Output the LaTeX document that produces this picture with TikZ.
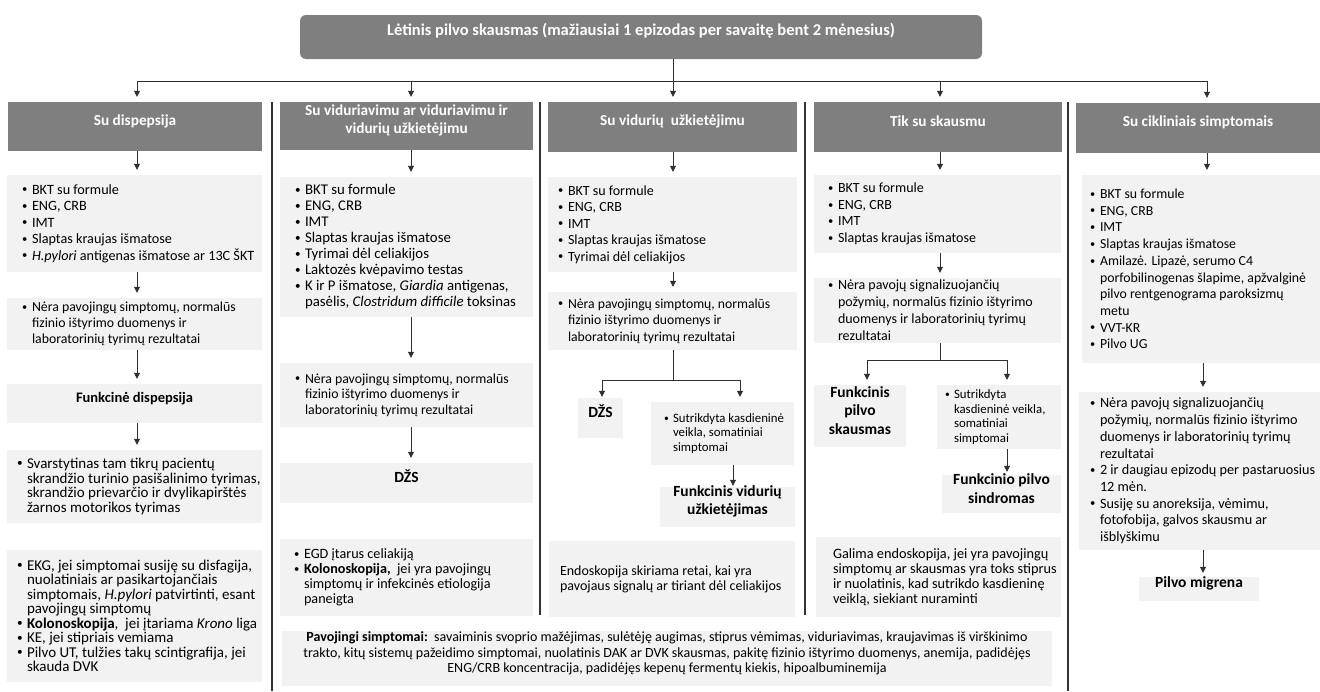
\documentclass[tikz,border=0pt]{standalone}
\usepackage{fontspec}
\usepackage{graphicx}
\setmainfont{Carlito}
\usetikzlibrary{arrows.meta,fit}
\definecolor{dk}{HTML}{7F7F7F}
\definecolor{lt}{HTML}{F2F2F2}
\definecolor{lc}{HTML}{303030}
\newcommand\bdot{\raisebox{0.1em}{\scalebox{0.75}{\textbullet}}}
\newcommand\bu{\makebox[10pt][l]{\bdot}}
\newcommand\ct{\hspace*{10pt}}
\newcommand\sbu{\makebox[9pt][l]{\bdot}}
\newcommand\sct{\hspace*{9pt}}
\newcommand\bx[7]{\node[#6, fit={(#2,#3) (#4,#5)}, inner sep=0pt] (#1) {#7};}
\newcommand\tx[5]{\node[txt, font=\fontsize{#3}{#4}\selectfont] at ([xshift=#2pt]#1.west) {#5};}
\begin{document}
\begin{tikzpicture}[x=1pt,y=-1pt,
  hdr/.style={fill=dk, draw=none, text=white, font=\fontsize{15.3}{18.3}\selectfont\bfseries, align=center},
  lbox/.style={fill=lt, draw=none},
  res/.style={fill=lt, draw=none, font=\fontsize{15.5}{18.3}\selectfont\bfseries, align=center},
  txt/.style={anchor=west, align=left, inner sep=0pt},
  stxt/.style={anchor=west, align=left, inner sep=0pt, font=\fontsize{12.8}{14.5}\selectfont},
  conn/.style={draw=lc, line width=0.8pt},
  arr/.style={draw=lc, line width=0.8pt, -{Triangle[length=6pt,width=6pt]}, shorten >=5pt},
  sep/.style={draw=black!80, line width=1.3pt}]
\useasboundingbox (0,0) rectangle (1320,691);
\fill[white] (0,0) rectangle (1320,691);

% separators
\draw[sep] (272,102) -- (272,691);
\draw[sep] (540,102) -- (540,615);
\draw[sep] (805,102) -- (805,615);
\draw[sep] (1068,102) -- (1068,691);

% title
\node[fill=dk, rounded corners=6pt, fit={(300,15) (982,59)}, inner sep=0pt, text=white, font=\fontsize{16.5}{19}\selectfont\bfseries] (title) {Lėtinis pilvo skausmas (mažiausiai 1 epizodas per savaitę bent 2 mėnesius)};

% ---------- column 1
\bx{h1}{8}{102}{262}{151}{hdr}{Su dispepsija}
\bx{a1}{7}{175}{262}{272}{lbox}{}
\tx{a1}{15}{14.2}{16.5}{\bu BKT su formule\\\bu ENG, CRB\\\bu IMT\\\bu Slaptas kraujas išmatose\\\bu \textit{H.pylori} antigenas išmatose ar 13C ŠKT}
\bx{a2}{7}{298}{262}{350}{lbox}{}
\tx{a2}{15}{13.8}{16}{\bu Nėra pavojingų simptomų, normalūs\\\ct fizinio ištyrimo duomenys ir\\\ct laboratorinių tyrimų rezultatai}
\bx{a3}{7}{384}{262}{423}{res, font=\fontsize{14.5}{17}\selectfont\bfseries}{Funkcinė dispepsija}
\bx{a4}{7}{450}{262}{523}{lbox}{}
\tx{a4}{10}{15}{14.7}{\bu Svarstytinas tam tikrų pacientų\\\ct skrandžio turinio pasišalinimo tyrimas,\\\ct skrandžio prievarčio ir dvylikapirštės\\\ct žarnos motorikos tyrimas}
\bx{a5}{7}{550}{262}{682}{lbox}{}
\tx{a5}{10}{15}{14.5}{\bu EKG, jei simptomai susiję su disfagija,\\\ct nuolatiniais ar pasikartojančiais\\\ct simptomais, \textit{H.pylori} patvirtinti, esant\\\ct pavojingų simptomų\\\bu \textbf{Kolonoskopija},\ \ jei įtariama \textit{Krono} liga\\\bu KE, jei stipriais vemiama\\\bu Pilvo UT, tulžies takų scintigrafija, jei\\\ct skauda DVK}

% ---------- column 2
\bx{h2}{280}{102}{533}{150}{hdr}{Su viduriavimu ar viduriavimu ir\\vidurių užkietėjimu}
\bx{b1}{280}{177}{533}{317}{lbox}{}
\tx{b1}{15}{14.8}{16}{\bu BKT su formule\\\bu ENG, CRB\\\bu IMT\\\bu Slaptas kraujas išmatose\\\bu Tyrimai dėl celiakijos\\\bu Laktozės kvėpavimo testas\\\bu K ir P išmatose, \textit{Giardia} antigenas,\\\ct pasėlis, \textit{Clostridum difficile} toksinas}
\bx{b2}{280}{363}{533}{427}{lbox}{}
\tx{b2}{15}{13.8}{15.5}{\bu Nėra pavojingų simptomų, normalūs\\\ct fizinio ištyrimo duomenys ir\\\ct laboratorinių tyrimų rezultatai}
\bx{b3}{280}{463}{533}{503}{res}{DŽS}
\bx{b4}{280}{539}{533}{616}{lbox}{}
\tx{b4}{14}{14.2}{15}{\bu EGD įtarus celiakiją\\\bu \textbf{Kolonoskopija,}\ \ jei yra pavojingų\\\ct simptomų ir infekcinės etiologija\\\ct paneigta}

% ---------- column 3
\bx{h3}{548}{102}{797}{152}{hdr}{Su vidurių\ \ užkietėjimu}
\bx{c1}{548}{177}{797}{272}{lbox}{}
\tx{c1}{10}{14}{16.5}{\bu BKT su formule\\\bu ENG, CRB\\\bu IMT\\\bu Slaptas kraujas išmatose\\\bu Tyrimai dėl celiakijos}
\bx{c2}{548}{292}{797}{350}{lbox}{}
\tx{c2}{10}{13.7}{16.5}{\bu Nėra pavojingų simptomų, normalūs\\\ct fizinio ištyrimo duomenys ir\\\ct laboratorinių tyrimų rezultatai}
\bx{c3}{578}{398}{623}{438}{res}{DŽS}
\bx{c4}{651}{402}{794}{465}{lbox}{}
\node[stxt] at ([xshift=13pt]c4.west) {\sbu Sutrikdyta kasdieninė\\\sct veikla, somatiniai\\\sct simptomai};
\bx{c5}{660}{487}{795}{527}{res}{Funkcinis vidurių\\užkietėjimas}
\bx{c6}{549}{541}{795}{617}{lbox}{}
\tx{c6}{11}{14}{15}{Endoskopija skiriama retai, kai yra\\pavojaus signalų ar tiriant dėl celiakijos}

% ---------- column 4
\bx{h4}{814}{102}{1062}{152}{hdr}{Tik su skausmu}
\bx{d1}{814}{175}{1061}{253}{lbox}{}
\tx{d1}{14}{14}{16.5}{\bu BKT su formule\\\bu ENG, CRB\\\bu IMT\\\bu Slaptas kraujas išmatose}
\bx{d2}{814}{278}{1061}{343}{lbox}{}
\tx{d2}{14}{14}{17}{\bu Nėra pavojų signalizuojančių\\\ct požymių, normalūs fizinio ištyrimo\\\ct duomenys ir laboratorinių tyrimų\\\ct rezultatai}
\bx{d3}{814}{385}{906}{447}{res}{Funkcinis\\pilvo\\skausmas}
\bx{d4}{937}{385}{1061}{449}{lbox}{}
\node[stxt] at ([xshift=8pt]d4.west) {\sbu Sutrikdyta\\\sct kasdieninė veikla,\\\sct somatiniai\\\sct simptomai};
\bx{d5}{942}{475}{1061}{513}{res}{Funkcinio pilvo\\sindromas}
\bx{d6}{816}{537}{1061}{617}{lbox}{}
\tx{d6}{17}{14.3}{15}{Galima endoskopija, jei yra pavojingų\\simptomų ar skausmas yra toks stiprus\\ir nuolatinis, kad sutrikdo kasdieninę\\veiklą, siekiant nuraminti}

% ---------- column 5
\bx{h5}{1076}{103}{1320}{153}{hdr}{Su cikliniais simptomais}
\bx{e1}{1082}{175}{1320}{363}{lbox}{}
\tx{e1}{8}{13.8}{16.7}{\bu BKT su formule\\\bu ENG, CRB\\\bu IMT\\\bu Slaptas kraujas išmatose\\\bu Amilazė. Lipazė, serumo C4\\\ct porfobilinogenas šlapime, apžvalginė\\\ct pilvo rentgenograma paroksizmų\\\ct metu\\\bu VVT-KR\\\bu Pilvo UG}
\bx{e2}{1079}{392}{1320}{550}{lbox}{}
\tx{e2}{11}{14.2}{16.7}{\bu Nėra pavojų signalizuojančių\\\ct požymių, normalūs fizinio ištyrimo\\\ct duomenys ir laboratorinių tyrimų\\\ct rezultatai\\\bu 2 ir daugiau epizodų per pastaruosius\\\ct 12 mėn.\\\bu Susiję su anoreksija, vėmimu,\\\ct fotofobija, galvos skausmu ar\\\ct išblyškimu}
\bx{e3}{1139}{577}{1259}{601}{res}{Pilvo migrena}

% ---------- danger box
\bx{pv}{282}{631}{1052}{686}{lbox, font=\fontsize{14}{15.5}\selectfont, align=center}{\textbf{Pavojingi simptomai:}\ \ savaiminis svoprio mažėjimas, sulėtėję augimas, stiprus vėmimas, viduriavimas, kraujavimas iš virškinimo\\trakto, kitų sistemų pažeidimo simptomai, nuolatinis DAK ar DVK skausmas, pakitę fizinio ištyrimo duomenys, anemija, padidėjęs\\ENG/CRB koncentracija, padidėjęs kepenų fermentų kiekis, hipoalbuminemija}

% ---------- connectors
\coordinate (hub) at (673,81);
\coordinate (t1) at (137,81);
\coordinate (t2) at (411,81);
\coordinate (t3) at (673,81);
\coordinate (t4) at (940,81);
\coordinate (t5) at (1207,81);
\coordinate (t5b) at (1203,81);
\draw[conn] (title.south -| hub) -- (hub);
\draw[conn] (t1) -- (t5);
\foreach \i in {1,...,5} {\draw[arr] (t\i) -- (t\i |- h\i.north);}

\draw[arr] (h1.south -| t1) -- (a1.north -| t1);
\draw[arr] (a1.south -| t1) -- (a2.north -| t1);
\draw[arr] (a2.south -| t1) -- (a3.north -| t1);
\draw[arr] (a3.south -| t1) -- (a4.north -| t1);

\draw[arr] (h2.south -| t2) -- (b1.north -| t2);
\draw[arr] (b1.south -| t2) -- (b2.north -| t2);
\draw[arr] (b2.south -| t2) -- (b3.north -| t2);

\draw[arr] (h3.south -| t3) -- (c1.north -| t3);
\draw[arr] (c1.south -| t3) -- (c2.north -| t3);
\coordinate (s3) at (673,380);
\coordinate (s3l) at (602,380);
\coordinate (s3r) at (740,380);
\coordinate (x733) at (733,0);
\draw[conn] (c2.south -| s3) -- (s3);
\draw[conn] (s3l) -- (s3r);
\draw[arr, shorten >=1pt] (s3l) -- (s3l |- c3.north);
\draw[arr] (s3r) -- (s3r |- c4.north);
\draw[arr, shorten >=1pt] (c4.south -| x733) -- (c5.north -| x733);

\draw[arr] (h4.south -| t4) -- (d1.north -| t4);
\draw[arr] (d1.south -| t4) -- (d2.north -| t4);
\coordinate (s4) at (940,360);
\coordinate (s4l) at (867,360);
\coordinate (s4r) at (1007,360);
\draw[conn] (d2.south -| s4) -- (s4);
\draw[conn] (s4l) -- (s4r);
\draw[arr] (s4l) -- (s4l |- d3.north);
\draw[arr] (s4r) -- (s4r |- d4.north);
\draw[arr, shorten >=3pt] (d4.south -| s4r) -- (d5.north -| s4r);

\draw[arr] (h5.south -| t5) -- (e1.north -| t5);
\draw[arr] (e1.south -| t5b) -- (e2.north -| t5b);
\draw[arr, shorten >=4pt] (e2.south -| t5b) -- (e3.north -| t5b);
\end{tikzpicture}
\end{document}
